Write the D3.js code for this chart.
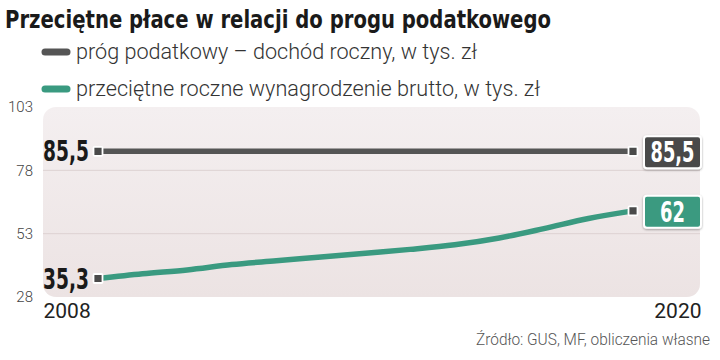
<!DOCTYPE html>
<html><head><meta charset="utf-8">
<script src="https://cdn.jsdelivr.net/npm/d3@7"></script>
<style>body{margin:0;background:#fff}svg{display:block}</style>
</head><body>
<svg id="c" width="720" height="360"></svg>
<script>
const years = [2008,2009,2010,2011,2012,2013,2014,2015,2016,2017,2018,2019,2020];
const threshold = [85.5,85.5,85.5,85.5,85.5,85.5,85.5,85.5,85.5,85.5,85.5,85.5,85.5];
const wages = [35.3,37.2,38.7,40.8,42.3,43.8,45.3,46.8,48.6,51.3,55.0,59.0,62.0];
const yTicks = [28,53,78,103];
const seriesNames = ["próg podatkowy – dochód roczny, w tys. zł","przeciętne roczne wynagrodzenie brutto, w tys. zł"];
const colors = ["#555555","#3a9a80"];
const title = "Przeciętne płace w relacji do progu podatkowego";
const source = "Źródło: GUS, MF, obliczenia własne";

const svg = d3.select("#c");
const narrow = "'Liberation Sans Narrow','DejaVu Sans Condensed','Roboto',sans-serif";
const x = d3.scaleLinear().domain([2008,2020]).range([98,633]);
const y = d3.scaleLinear().domain([28,103]).range([297,107]);

const defs = svg.append("defs");
const g = defs.append("linearGradient").attr("id","bg").attr("x1",0).attr("x2",0).attr("y1",0).attr("y2",1);
g.append("stop").attr("offset","0").attr("stop-color","#f4eff0");
g.append("stop").attr("offset","1").attr("stop-color","#ece3e3");
const f = defs.append("filter").attr("id","sh").attr("x","-20%").attr("y","-20%").attr("width","140%").attr("height","140%");
f.append("feDropShadow").attr("dx",0).attr("dy",1).attr("stdDeviation",1.2).attr("flood-color","#000").attr("flood-opacity",0.35);

// title
svg.append("text").attr("x",5).attr("y",28).text(title)
  .attr("font-family",narrow).attr("font-weight","bold").attr("font-size",24)
  .attr("fill","#1a1a1a").attr("textLength",546).attr("lengthAdjust","spacingAndGlyphs");

// legend
seriesNames.forEach((n,i)=>{
  const cy = 52 + i*37;
  svg.append("line").attr("x1",45).attr("x2",67).attr("y1",cy).attr("y2",cy)
    .attr("stroke",colors[i]).attr("stroke-width",7).attr("stroke-linecap","round");
  svg.append("text").attr("x",76).attr("y",cy+7).text(n)
    .attr("font-family","'Roboto',sans-serif").attr("font-weight",300).attr("font-size",22).attr("fill","#333")
    .attr("textLength", i===0?401:464).attr("lengthAdjust","spacingAndGlyphs");
});

// plot bg
svg.append("rect").attr("x",43).attr("y",107).attr("width",657).attr("height",190)
  .attr("rx",13).attr("fill","url(#bg)");

// gridlines
svg.append("g").selectAll("line").data(yTicks.filter(t=>t>28&&t<103)).join("line")
  .attr("x1",43).attr("x2",700).attr("y1",d=>y(d)).attr("y2",d=>y(d))
  .attr("stroke","#ddd2d2").attr("stroke-width",1);

// y axis labels
const yAxis = d3.axisLeft(y).tickValues(yTicks).tickSize(0).tickPadding(0);
const ya = svg.append("g").attr("transform","translate(33,0)").call(yAxis);
ya.select(".domain").remove();
ya.selectAll("text").attr("font-family","'Roboto',sans-serif").attr("font-size",15).attr("fill","#444")
  .attr("font-weight",300);

// x axis labels
const xAxis = d3.axisBottom(x).tickValues([2008,2020]).tickFormat(d3.format("d")).tickSize(0).tickPadding(0);
const xa = svg.append("g").attr("transform","translate(0,303)").call(xAxis);
xa.select(".domain").remove();
xa.selectAll("text").attr("font-family","'Roboto',sans-serif").attr("font-size",21).attr("fill","#222")
  .attr("text-anchor",(d)=>d===2008?"start":"end")
  .attr("x",(d)=>d===2008?43-x(2008):701-x(2020));

// lines
const line = d3.line().x((d,i)=>x(years[i])).y(d=>y(d)).curve(d3.curveMonotoneX);
[threshold,wages].forEach((s,i)=>{
  svg.append("path").datum(s).attr("d",line).attr("fill","none")
    .attr("stroke",colors[i]).attr("stroke-width",5.5).attr("stroke-linecap","butt");
});

// endpoint markers
[threshold,wages].forEach((s)=>{
  [0,s.length-1].forEach(i=>{
    svg.append("rect").attr("x",x(years[i])-4.5).attr("y",y(s[i])-4.5).attr("width",9).attr("height",9)
      .attr("fill","#4a4a4a").attr("stroke","#fff").attr("stroke-width",1.8).attr("rx",1);
  });
});

// left labels
const fmt = v => d3.format(".1f")(v).replace(".",",");
[threshold,wages].forEach((s)=>{
  svg.append("text").attr("x",43).attr("y",y(s[0])+10).text(fmt(s[0]))
    .attr("font-family",narrow).attr("font-weight","bold").attr("font-size",29).attr("fill","#1a1a1a")
    .attr("textLength",46).attr("lengthAdjust","spacingAndGlyphs");
});

// right boxes
[threshold,wages].forEach((s,i)=>{
  const v = s[s.length-1];
  const cy = y(v)+1;
  svg.append("rect").attr("x",644).attr("y",cy-16).attr("width",57).attr("height",32).attr("rx",3)
    .attr("fill",colors[i]==="#555555"?"#4a4a4a":colors[i]).attr("stroke","#fff").attr("stroke-width",2)
    .attr("filter","url(#sh)");
  const lbl = Number.isInteger(v)?String(v):fmt(v);
  svg.append("text").attr("x",672.5).attr("y",cy+10).attr("text-anchor","middle").text(lbl)
    .attr("font-family",narrow).attr("font-weight","bold").attr("font-size",28).attr("fill","#fff")
    .attr("textLength",lbl.length>2?44:25).attr("lengthAdjust","spacingAndGlyphs");
});

// source
svg.append("text").attr("x",710).attr("y",345).attr("text-anchor","end").text(source)
  .attr("font-family","'Roboto',sans-serif").attr("font-weight",300).attr("font-size",16).attr("fill","#555")
  .attr("textLength",234).attr("lengthAdjust","spacingAndGlyphs");
</script>
</body></html>
